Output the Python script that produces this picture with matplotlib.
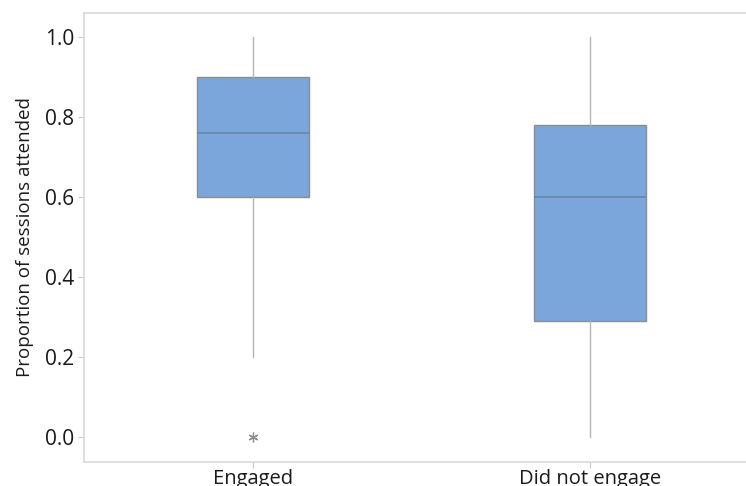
import matplotlib
matplotlib.use("Agg")
import matplotlib.pyplot as plt

plt.rcParams['font.family'] = ['Open Sans', 'DejaVu Sans']

# Summary statistics for each group
groups = ["Engaged", "Did not engage"]
whisker_low = [0.2, 0.0]
q1 = [0.6, 0.29]
median = [0.76, 0.6]
q3 = [0.9, 0.78]
whisker_high = [1.0, 1.0]
outliers = [[0.0], []]

yticks = [0.0, 0.2, 0.4, 0.6, 0.8, 1.0]

stats = []
for i, name in enumerate(groups):
    stats.append(dict(label=name, whislo=whisker_low[i], q1=q1[i], med=median[i],
                      q3=q3[i], whishi=whisker_high[i], fliers=outliers[i]))

fig = plt.figure(figsize=(7.46, 4.86), dpi=100)
ax = fig.add_axes([84 / 746, 24 / 486, 675 / 746, 449 / 486])

box_color = "#7aa6dc"
edge = "#8c8c8c"
ax.bxp(stats, positions=[0, 1], widths=0.332, patch_artist=True, showcaps=False,
       boxprops=dict(facecolor=box_color, edgecolor=edge, linewidth=1.0),
       medianprops=dict(color="#6a86ab", linewidth=1.2),
       whiskerprops=dict(color="#b5b5b5", linewidth=1.0),
       flierprops=dict(marker=(6, 2, 0), markeredgecolor="#8a8a8a",
                       markerfacecolor="none", markersize=7, markeredgewidth=0.9))

ax.set_xlim(-0.5, 1.5)
ax.set_ylim(-0.0625, 1.06)
ax.set_yticks(yticks)
ax.set_yticklabels([f"{t:.1f}" for t in yticks])
ax.set_xticks([0, 1])
ax.set_xticklabels(groups)

for s in ax.spines.values():
    s.set_color("#d9d9d9")
    s.set_linewidth(1.2)

ax.tick_params(axis="y", length=4, color="#c8c8c8", labelsize=15, pad=3, labelcolor="#1a1a1a")
ax.tick_params(axis="x", length=4, color="#c8c8c8", labelsize=14.5, pad=1, labelcolor="#1a1a1a")
ax.set_ylabel("Proportion of sessions attended", fontsize=13.5, color="#1a1a1a", labelpad=8)

fig.savefig("out.png", dpi=100)
